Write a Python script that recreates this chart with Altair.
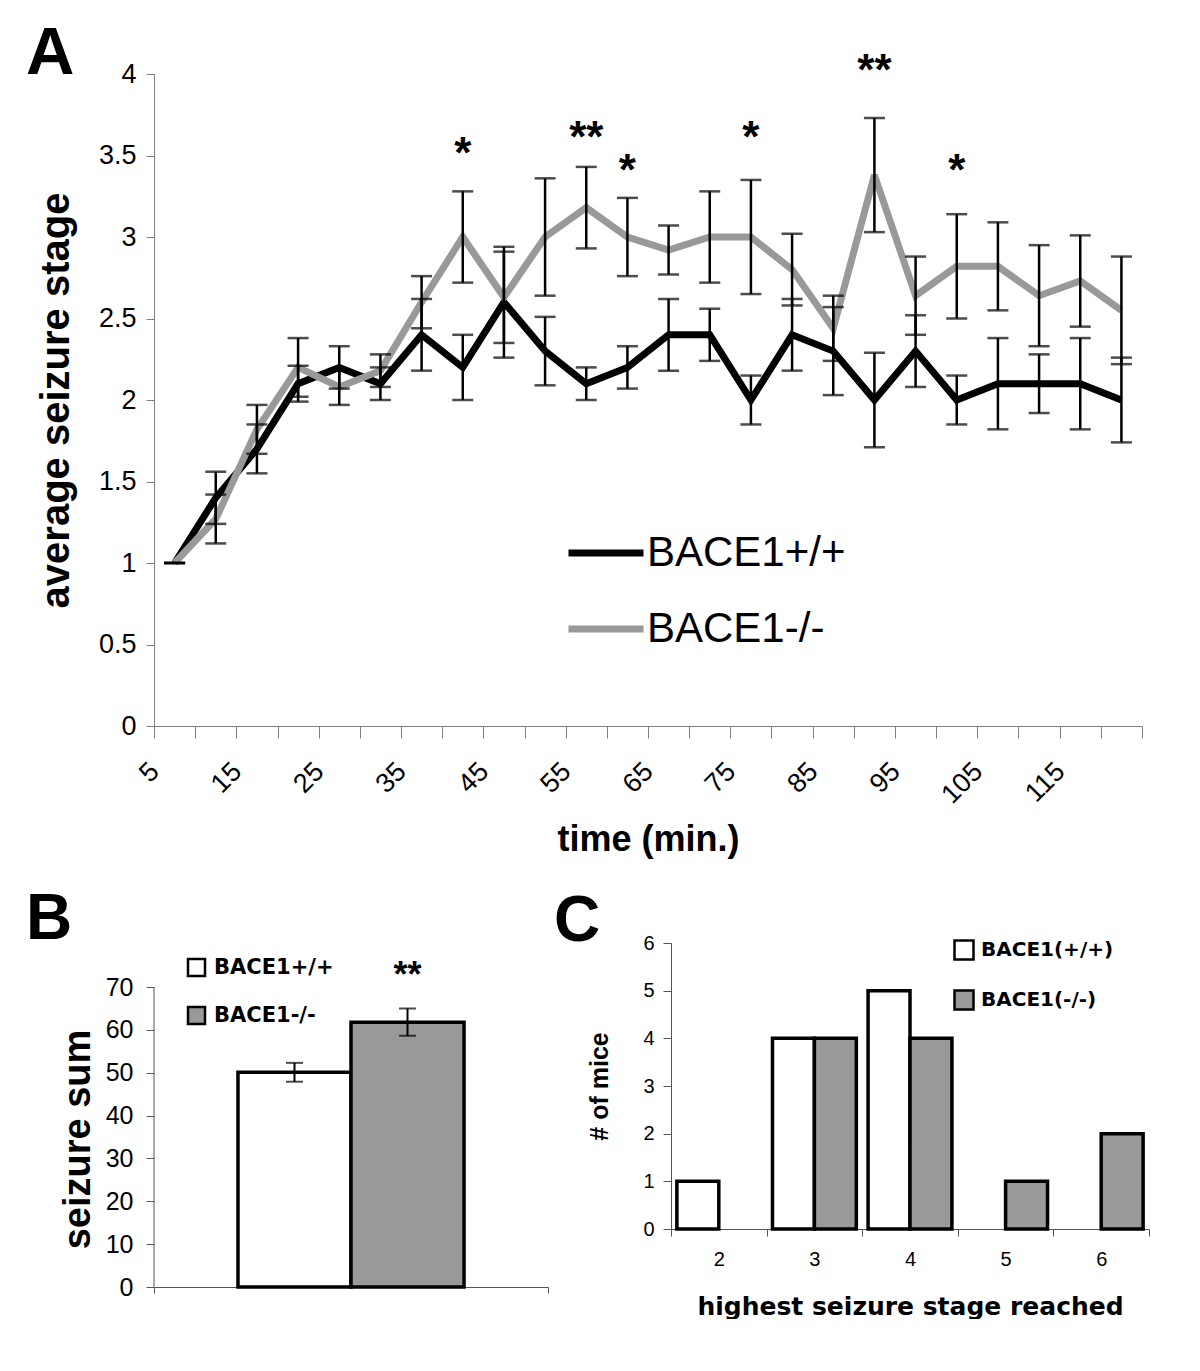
import altair as alt
import pandas as pd

# ---------------- Panel A data ----------------
times = [5, 10, 15, 20, 25, 30, 35, 40, 45, 50, 55, 60,
         65, 70, 75, 80, 85, 90, 95, 100, 105, 110, 115, 120]
wt_mean = [1.0, 1.4, 1.7, 2.1, 2.2, 2.1, 2.4, 2.2, 2.6, 2.3, 2.1, 2.2,
           2.4, 2.4, 2.0, 2.4, 2.3, 2.0, 2.3, 2.0, 2.1, 2.1, 2.1, 2.0]
wt_err = [0.0, 0.16, 0.15, 0.11, 0.13, 0.10, 0.22, 0.20, 0.34, 0.21, 0.10, 0.13,
          0.22, 0.16, 0.15, 0.22, 0.27, 0.29, 0.22, 0.15, 0.28, 0.18, 0.28, 0.26]
ko_mean = [1.0, 1.27, 1.82, 2.2, 2.08, 2.18, 2.6, 3.0, 2.63, 3.0, 3.18, 3.0,
           2.92, 3.0, 3.0, 2.8, 2.44, 3.38, 2.64, 2.82, 2.82, 2.64, 2.73, 2.55]
ko_err = [0.0, 0.15, 0.15, 0.18, 0.11, 0.10, 0.16, 0.28, 0.28, 0.36, 0.25, 0.24,
          0.15, 0.28, 0.35, 0.22, 0.20, 0.35, 0.24, 0.32, 0.27, 0.31, 0.28, 0.33]
a_groups = ["BACE1+/+", "BACE1-/-"]
star_times = [40, 55, 60, 75, 90, 100]
star_text = ["*", "**", "*", "*", "**", "*"]
star_level = [3.55, 3.65, 3.45, 3.65, 4.06, 3.45]
a_yticks = [0, 0.5, 1, 1.5, 2, 2.5, 3, 3.5, 4]

# ---------------- Panel B data ----------------
b_groups = ["BACE1+/+", "BACE1-/-"]
b_means = [50.1, 61.8]
b_errs = [2.2, 3.2]
b_star_text = "**"
b_star_level = 75
b_yticks = [0, 10, 20, 30, 40, 50, 60, 70]

# ---------------- Panel C data ----------------
c_stages = [2, 3, 4, 5, 6]
c_wt = [1, 4, 5, 0, 0]
c_ko = [0, 4, 4, 1, 2]
c_groups = ["BACE1(+/+)", "BACE1(-/-)"]
c_yticks = [0, 1, 2, 3, 4, 5, 6]

GRAY = "#999999"
SANS = "Liberation Sans"
WIDE = "DejaVu Sans"

# ================= Panel A =================
rowsA = []
for g, m, e in ((a_groups[0], wt_mean, wt_err), (a_groups[1], ko_mean, ko_err)):
    for t, mi, ei in zip(times, m, e):
        rowsA.append(dict(time=t, genotype=g, mean=mi, lo=mi - ei, hi=mi + ei))
dfA = pd.DataFrame(rowsA)
dfStars = pd.DataFrame(dict(time=star_times, label=star_text, level=star_level))

xA = alt.X(
    "time:O",
    bandPosition=0.5,
    scale=alt.Scale(type="band", domain=times, paddingInner=0, paddingOuter=0),
    axis=alt.Axis(
        title="time (min.)",
        labelAngle=-45, labelAlign="right", labelBaseline="middle",
        labelFont=SANS, labelFontSize=27, labelColor="black",
        labelPadding=29, labelOffset=-20, labelOverlap=False,
        labelExpr="datum.value % 10 == 5 ? datum.label : ''",
        tickBand="extent", tickSize=12, tickColor="#808080", domainColor="#808080",
        titleFont=SANS, titleFontSize=36, titleFontWeight="bold", titleColor="black",
        titleY=124, titleBaseline="alphabetic",
    ),
)
yA_scale = alt.Scale(domain=[0, 4], nice=False)
yA_axis = alt.Axis(
    values=a_yticks, format="~g", title="average seizure stage",
    labelFont=SANS, labelFontSize=27, labelColor="black", labelPadding=10,
    tickSize=8, tickColor="#808080", domainColor="#808080", grid=False,
    titleFont=SANS, titleFontSize=40, titleFontWeight="bold", titleColor="black",
    titleX=-86, titleY=326, titleBaseline="alphabetic",
)

lines = alt.Chart(dfA).mark_line(strokeWidth=7, strokeJoin="miter", strokeMiterLimit=3).encode(
    x=xA,
    y=alt.Y("mean:Q", scale=yA_scale, axis=yA_axis),
    color=alt.Color(
        "genotype:N",
        scale=alt.Scale(domain=a_groups, range=["black", GRAY]),
        legend=alt.Legend(
            orient="none", legendX=411, legendY=438, direction="vertical", title=None,
            symbolType="stroke", symbolSize=5625, symbolStrokeWidth=7,
            labelFont=SANS, labelFontSize=42, labelColor="black", labelOffset=0,
            labelLimit=0, rowPadding=14, padding=0,
        ),
    ),
)
err_rules = alt.Chart(dfA).mark_rule(strokeWidth=2.5, color="black").encode(
    x=xA, y=alt.Y("lo:Q"), y2="hi:Q")
caps_lo = alt.Chart(dfA).mark_tick(orient="horizontal", size=21, thickness=2.5, color="black").encode(
    x=xA, y=alt.Y("lo:Q"))
caps_hi = alt.Chart(dfA).mark_tick(orient="horizontal", size=21, thickness=2.5, color="black").encode(
    x=xA, y=alt.Y("hi:Q"))
stars = alt.Chart(dfStars).mark_text(
    font=SANS, fontSize=44, fontWeight="bold", color="black", baseline="alphabetic", dy=21
).encode(x=xA, y=alt.Y("level:Q"), text="label:N")

letterA = alt.Chart(pd.DataFrame({"t": ["A"]})).mark_text(
    font=SANS, fontSize=67, fontWeight="bold", color="black", align="left", baseline="alphabetic"
).encode(x=alt.value(-128), y=alt.value(0), text="t:N")
anchor = alt.Chart(pd.DataFrame({"t": [0]})).mark_point(size=1, opacity=0, filled=True).encode(
    x=alt.value(-145), y=alt.value(-65))

panelA = alt.layer(lines, err_rules, caps_lo, caps_hi, stars, letterA, anchor).properties(
    width=988, height=652)

# ================= Panel B =================
dfB = pd.DataFrame(dict(
    cat=["all", "all"], genotype=b_groups, mean=b_means,
    lo=[m - e for m, e in zip(b_means, b_errs)], hi=[m + e for m, e in zip(b_means, b_errs)]))
dfBstar = pd.DataFrame(dict(cat=["all"], genotype=[b_groups[1]], label=[b_star_text], level=[b_star_level]))

B_H = 344
xB = alt.X("cat:N", scale=alt.Scale(paddingInner=0, paddingOuter=0),
           axis=alt.Axis(labels=False, title=None, tickBand="extent", tickSize=6,
                         tickColor="#555555", domainColor="#555555"))
xoB = alt.XOffset("genotype:N", scale=alt.Scale(domain=b_groups, paddingInner=0, paddingOuter=0.743))
yB_scale = alt.Scale(domain=[0, 70 * B_H / 300], nice=False)
yB_axis = alt.Axis(
    values=b_yticks, domain=False, grid=False, title="seizure sum",
    labelFont=SANS, labelFontSize=25, labelColor="black", labelPadding=13,
    tickSize=8, tickColor="#555555",
    titleFont=SANS, titleFontSize=38, titleFontWeight="bold", titleColor="black",
    titleX=-65, titleY=196, titleBaseline="alphabetic",
)
barsB = alt.Chart(dfB).mark_bar(stroke="black", strokeWidth=3.5).encode(
    x=xB, xOffset=xoB,
    y=alt.Y("mean:Q", scale=yB_scale, axis=yB_axis),
    fill=alt.Fill("genotype:N", scale=alt.Scale(domain=b_groups, range=["white", GRAY]),
                  legend=alt.Legend(
                      orient="none", legendX=32, legendY=14, direction="vertical", title=None,
                      symbolType="square", symbolSize=289, symbolStrokeColor="black",
                      symbolStrokeWidth=2.5, labelFont=WIDE, labelFontWeight="bold",
                      labelFontSize=21, labelColor="black", labelOffset=7, labelLimit=0,
                      rowPadding=21, padding=0)),
)
axisB = alt.Chart(pd.DataFrame({"t": [0]})).mark_rule(color="#555555", strokeWidth=1).encode(
    x=alt.value(0), y=alt.datum(0), y2=alt.datum(70))
errB = alt.Chart(dfB).mark_rule(strokeWidth=2, color="black").encode(
    x=xB, xOffset=xoB, y="lo:Q", y2="hi:Q")
capBlo = alt.Chart(dfB).mark_tick(orient="horizontal", size=17, thickness=2, color="black").encode(
    x=xB, xOffset=xoB, y="lo:Q")
capBhi = alt.Chart(dfB).mark_tick(orient="horizontal", size=17, thickness=2, color="black").encode(
    x=xB, xOffset=xoB, y="hi:Q")
starB = alt.Chart(dfBstar).mark_text(
    font=SANS, fontSize=36, fontWeight="bold", color="black", baseline="alphabetic", dy=21
).encode(x=xB, xOffset=xoB, y="level:Q", text="label:N")
letterB = alt.Chart(pd.DataFrame({"t": ["B"]})).mark_text(
    font=SANS, fontSize=64, fontWeight="bold", color="black", align="left", baseline="alphabetic"
).encode(x=alt.value(-128), y=alt.value(-4), text="t:N")

panelB = alt.layer(axisB, barsB, errB, capBlo, capBhi, starB, letterB).properties(width=394, height=B_H)

# ================= Panel C =================
rowsC = []
for g, vals in ((c_groups[0], c_wt), (c_groups[1], c_ko)):
    for s, v in zip(c_stages, vals):
        if v > 0:
            rowsC.append(dict(stage=s, genotype=g, count=v))
dfC = pd.DataFrame(rowsC)

xC = alt.X("stage:O", scale=alt.Scale(type="band", domain=c_stages, paddingInner=0, paddingOuter=0),
           axis=alt.Axis(
               title="highest seizure stage reached", labelAngle=0,
               labelFont=SANS, labelFontSize=20, labelColor="black", labelPadding=13,
               tickBand="extent", tickSize=7, tickColor="#555555", domainColor="#555555",
               titleFont=WIDE, titleFontSize=25, titleFontWeight="bold", titleColor="black",
               titleY=85, titleBaseline="alphabetic"))
xoC = alt.XOffset("genotype:N", scale=alt.Scale(domain=c_groups, paddingInner=0, paddingOuter=0.14))
barsC = alt.Chart(dfC).mark_bar(stroke="black", strokeWidth=3.5).encode(
    x=xC, xOffset=xoC,
    y=alt.Y("count:Q", scale=alt.Scale(domain=[0, 6], nice=False),
            axis=alt.Axis(values=c_yticks, grid=False, title="# of mice",
                          labelFont=SANS, labelFontSize=20, labelColor="black", labelPadding=9,
                          tickSize=8, tickColor="#555555", domainColor="#555555",
                          titleFont=SANS, titleFontSize=25, titleFontWeight="bold",
                          titleColor="black", titleX=-64, titleY=143, titleBaseline="alphabetic")),
    fill=alt.Fill("genotype:N", scale=alt.Scale(domain=c_groups, range=["white", GRAY]),
                  legend=alt.Legend(
                      orient="none", legendX=282, legendY=-4, direction="vertical", title=None,
                      symbolType="square", symbolSize=361, symbolStrokeColor="black",
                      symbolStrokeWidth=2.5, labelFont=WIDE, labelFontWeight="bold",
                      labelFontSize=20, labelColor="black", labelOffset=6, labelLimit=0,
                      rowPadding=20, padding=0)),
)
letterC = alt.Chart(pd.DataFrame({"t": ["C"]})).mark_text(
    font=SANS, fontSize=64, fontWeight="bold", color="black", align="left", baseline="alphabetic"
).encode(x=alt.value(-117), y=alt.value(-2), text="t:N")

panelC = alt.layer(barsC, letterC).properties(width=478, height=286)

bottom = alt.hconcat(panelB, panelC, spacing=123, bounds="flush").resolve_scale(
    fill="independent", color="independent", xOffset="independent").resolve_legend(
    fill="independent", color="independent")

chart = alt.vconcat(panelA, bottom, spacing=217, bounds="flush", padding=0).resolve_scale(
    fill="independent", color="independent", xOffset="independent").resolve_legend(
    fill="independent", color="independent").configure_view(stroke=None).configure_axis(grid=False)

chart.save("out.html", embed_options={"renderer": "svg", "actions": False})
